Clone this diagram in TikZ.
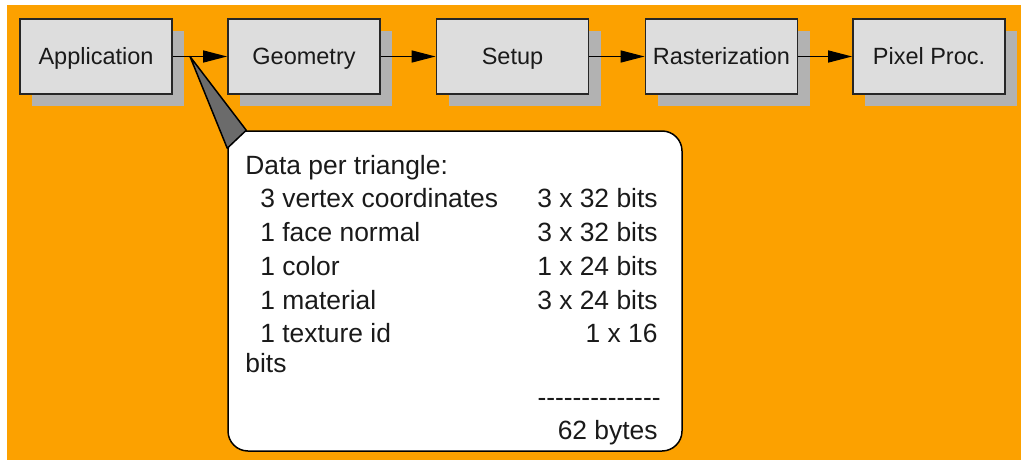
\documentclass[tikz,border=0pt]{standalone}
\usepackage{fontspec}
\setmainfont{Liberation Sans}
\usetikzlibrary{arrows.meta}
\definecolor{bgorange}{RGB}{252,161,0}
\definecolor{boxgray}{RGB}{221,221,221}
\definecolor{shadowgray}{RGB}{178,178,178}
\definecolor{pointergray}{RGB}{107,107,107}
\definecolor{inkgray}{RGB}{26,26,26}
\begin{document}
\begin{tikzpicture}[x=0.5pt,y=-0.5pt,
  stage/.style={draw=black!85, line width=0.9pt, fill=boxgray, minimum width=76pt, minimum height=37.5pt, inner sep=0pt, text height=8.5pt, text depth=0pt, font=\fontsize{11.75pt}{14pt}\selectfont, text=inkgray},
  shadowbox/.style={fill=shadowgray, minimum width=76pt, minimum height=37.5pt, inner sep=0pt},
  flow/.style={draw=black, line width=0.75pt, -{Triangle[length=12pt,width=6pt]}},
  bubble/.style={draw=black, line width=0.75pt, fill=white, rounded corners=10pt, minimum width=227pt, minimum height=160pt, inner sep=0pt},
  info/.style={font=\fontsize{13.2pt}{15pt}\selectfont, text=inkgray, inner sep=0pt}]
\useasboundingbox (0,0) rectangle (1021,460);
\fill[bgorange] (7,5) rectangle (1021,460);
% shadows
\node[shadowbox] (s1) at (108,68.5) {};
\node[shadowbox] (s2) at (316,68.5) {};
\node[shadowbox] (s3) at (524.5,68.5) {};
\node[shadowbox] (s4) at (733.5,68.5) {};
\node[shadowbox] (s5) at (941,68.5) {};
% stages
\node[stage] (app) at (96,56.5) {Application};
\node[stage] (geo) at (304,56.5) {Geometry};
\node[stage] (set) at (512.5,56.5) {Setup};
\node[stage] (ras) at (721.5,56.5) {Rasterization};
\node[stage] (pix) at (929,56.5) {Pixel Proc.};
\draw[flow] (app.east) -- (geo.west);
\draw[flow] (geo.east) -- (set.west);
\draw[flow] (set.east) -- (ras.west);
\draw[flow] (ras.east) -- (pix.west);
% callout
\node[bubble] (callout) at (455,291) {};
\coordinate (tip) at (190,56.5);
\draw[fill=pointergray, line width=0.75pt, line join=round] (tip) -- ([xshift=9.5pt]callout.north west) -- ([yshift=-9pt]callout.north west) -- cycle;
% texts
\node[info, anchor=base west] (t0) at (245,174) {Data per triangle:};
\node[info, anchor=base west] (t1) at (260,207.7) {3 vertex coordinates};
\node[info, anchor=base west] (t2) at (260,241.7) {1 face normal};
\node[info, anchor=base west] (t3) at (260,275.7) {1 color};
\node[info, anchor=base west] (t4) at (260,309.3) {1 material};
\node[info, anchor=base west] (t5) at (260,342.7) {1 texture id};
\node[info, anchor=base west] (t6) at (245,372.7) {bits};
\node[info, anchor=base east] (v1) at (658,207.7) {3 x 32 bits};
\node[info, anchor=base east] (v2) at (658,241.7) {3 x 32 bits};
\node[info, anchor=base east] (v3) at (658,275.7) {1 x 24 bits};
\node[info, anchor=base east] (v4) at (658,309.3) {3 x 24 bits};
\node[info, anchor=base east] (v5) at (658,342.7) {1 x 16};
\node[info, anchor=base east] (v6) at (661,406) {\hbox{-}\hbox{-}\hbox{-}\hbox{-}\hbox{-}\hbox{-}\hbox{-}\hbox{-}\hbox{-}\hbox{-}\hbox{-}\hbox{-}\hbox{-}\hbox{-}};
\node[info, anchor=base east] (v7) at (658,439.3) {62 bytes};
\end{tikzpicture}
\end{document}
